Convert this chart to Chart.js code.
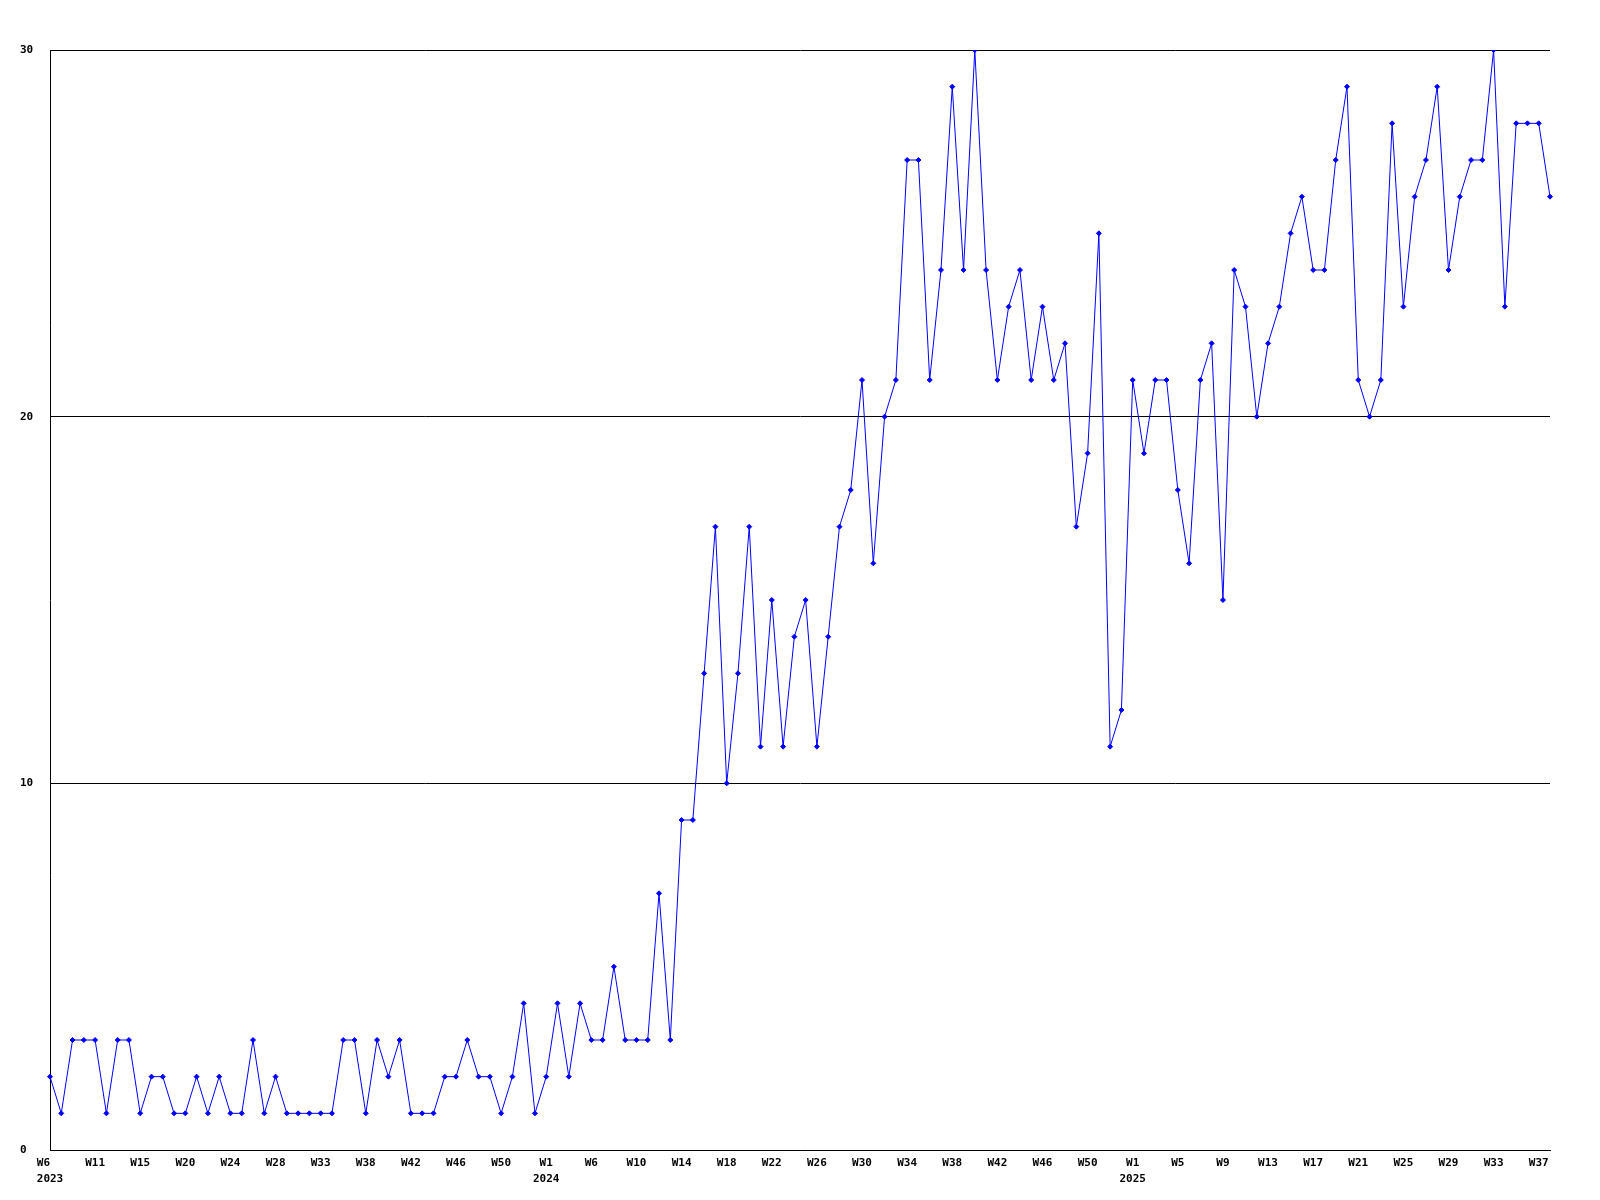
<!DOCTYPE html>
<html>
<head>
<meta charset="utf-8">
<title>Weekly count</title>
<script src="https://cdn.jsdelivr.net/npm/chart.js@4/dist/chart.umd.min.js"></script>
<style>
	html, body { margin: 0; padding: 0; background: #fff; }
	#wrap { width: 1600px; height: 1200px; }
</style>
</head>
<body>
<div id="wrap"><canvas id="weekly-chart" width="1600" height="1200"></canvas></div>
<script>
// Weekly values, 2023 W6 .. 2025 W38 (one point per plotted week)
const weeklyCounts = [
	2, 1, 3, 3, 3, 1, 3, 3, 1, 2, 2, 1, 1, 2, 1, 2, 1, 1, 3, 1,
	2, 1, 1, 1, 1, 1, 3, 3, 1, 3, 2, 3, 1, 1, 1, 2, 2, 3, 2, 2,
	1, 2, 4, 1, 2, 4, 2, 4, 3, 3, 5, 3, 3, 3, 7, 3, 9, 9, 13, 17,
	10, 13, 17, 11, 15, 11, 14, 15, 11, 14, 17, 18, 21, 16, 20, 21, 27, 27, 21, 24,
	29, 24, 30, 24, 21, 23, 24, 21, 23, 21, 22, 17, 19, 25, 11, 12, 21, 19, 21, 21,
	18, 16, 21, 22, 15, 24, 23, 20, 22, 23, 25, 26, 24, 24, 27, 29, 21, 20, 21, 28,
	23, 26, 27, 29, 24, 26, 27, 27, 30, 23, 28, 28, 28, 26
];

// Labels printed under every 4th point
const weekTicks = [
	'W6', 'W11', 'W15', 'W20', 'W24', 'W28', 'W33', 'W38', 'W42', 'W46', 'W50',
	'W1', 'W6', 'W10', 'W14', 'W18', 'W22', 'W26', 'W30', 'W34', 'W38', 'W42', 'W46', 'W50',
	'W1', 'W5', 'W9', 'W13', 'W17', 'W21', 'W25', 'W29', 'W33', 'W37'
];

// Year printed under the week label, keyed by position in weekTicks
const yearTicks = { 0: '2023', 11: '2024', 24: '2025' };

const tickEvery = 4;
const yMax = 30;
const yStep = 10;

(function() {
	'use strict';

	const FONT = { family: '"DejaVu Sans Mono", "Liberation Mono", monospace', size: 11, weight: 'bold', lineHeight: '16px' };

	/**
	 * Build the x tick text for a point index
	 */
	function weekLabel(index) {
		if (index % tickEvery !== 0) return '';
		const t = index / tickEvery;
		const week = weekTicks[t];
		if (week === undefined) return '';
		const year = yearTicks[t];
		if (!year) return week;
		// first label hugs the left edge, so keep it left-aligned above the year
		if (t === 0) return [week.padEnd(year.length, ' '), year];
		return [week, year];
	}

	function initWeeklyChart() {
		const canvas = document.getElementById('weekly-chart');
		if (!canvas) return;

		new Chart(canvas, {
			type: 'line',
			data: {
				labels: weeklyCounts.map((_, i) => i),
				datasets: [{
					data: weeklyCounts,
					borderColor: '#0000ff',
					backgroundColor: '#0000ff',
					borderWidth: 1,
					tension: 0,
					fill: false,
					pointStyle: 'rectRot',
					pointRadius: 2.5,
					pointBorderWidth: 1,
					pointBackgroundColor: '#0000ff',
					pointBorderColor: '#0000ff'
				}]
			},
			options: {
				responsive: false,
				animation: false,
				devicePixelRatio: 1,
				layout: {
					padding: { left: 20, right: 50, top: 50, bottom: 0 }
				},
				plugins: {
					legend: { display: false },
					tooltip: { enabled: false }
				},
				scales: {
					x: {
						type: 'category',
						offset: false,
						grid: { color: 'rgba(0,0,0,0)', drawTicks: false },
						border: { display: true, color: '#000', width: 1 },
						ticks: {
							autoSkip: false,
							maxRotation: 0,
							minRotation: 0,
							padding: 5,
							color: '#000',
							font: FONT,
							callback: function(value, index) {
								return weekLabel(index);
							}
						},
						afterFit: function(scale) {
							scale.height = 50;
						}
					},
					y: {
						min: 0,
						max: yMax,
						grid: { color: '#000', lineWidth: 1, drawTicks: false },
						border: { display: true, color: '#000', width: 1 },
						ticks: {
							stepSize: yStep,
							crossAlign: 'far',
							padding: 4,
							color: '#000',
							font: FONT
						},
						afterFit: function(scale) {
							scale.width = 30;
						}
					}
				}
			}
		});
	}

	initWeeklyChart();
})();
</script>
</body>
</html>
